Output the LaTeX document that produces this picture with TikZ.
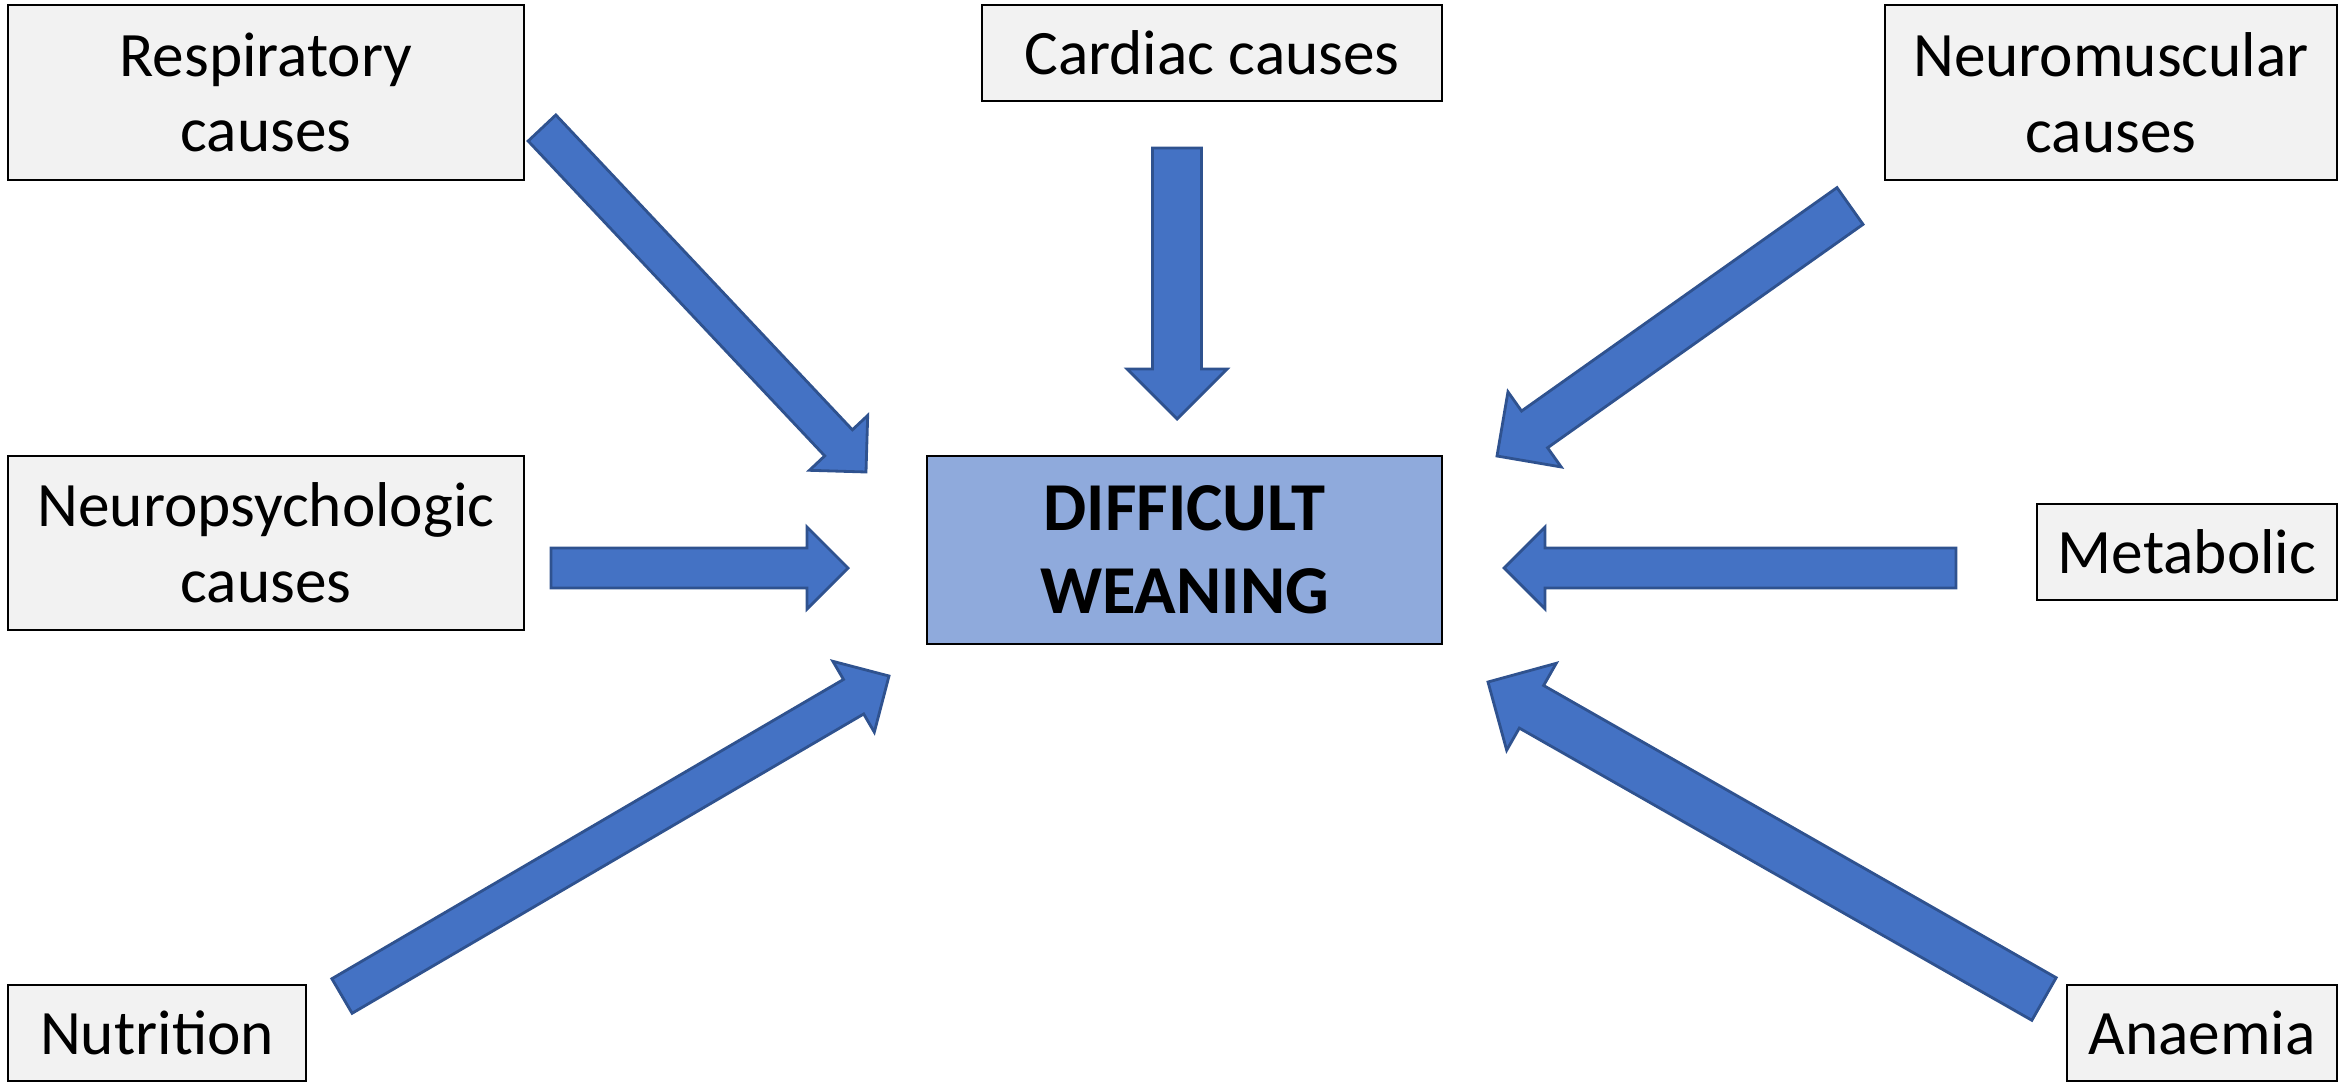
\documentclass[tikz,border=0pt]{standalone}
\usepackage{fontspec}
\setmainfont{Carlito}
\usetikzlibrary{calc}
\definecolor{cBox}{HTML}{F2F2F2}
\definecolor{cMain}{HTML}{8FAADC}
\definecolor{cArrow}{HTML}{4472C4}
\definecolor{cArrowLine}{HTML}{2F528F}

\begin{document}
\begin{tikzpicture}[x=0.01cm, y=-0.01cm,
    cause/.style={draw=black, fill=cBox, line width=0.6pt, align=center,
      inner sep=0pt, font=\fontsize{18}{21.5}\selectfont},
    blockarrow/.style={draw=cArrowLine, fill=cArrow, line width=0.8pt, line join=miter}]
  \useasboundingbox (0,0) rectangle (2351,1082);

  % Central problem
  \node[cause, fill=cMain, minimum width=5.15cm, minimum height=1.88cm,
        font=\fontsize{19.5}{23.5}\selectfont\bfseries] (weaning) at (1184.5,550)
    {DIFFICULT\\WEANING};

  % Causes around it
  \node[cause, minimum width=5.16cm, minimum height=1.75cm] (resp)  at (266,92.5)  {Respiratory\\causes};
  \node[cause, minimum width=4.59cm, minimum height=0.96cm] (card)  at (1212,53)   {Cardiac causes};
  \node[cause, minimum width=4.51cm, minimum height=1.75cm] (neuro) at (2111,92.5) {Neuromuscular\\causes};
  \node[cause, minimum width=5.16cm, minimum height=1.74cm] (psych) at (266,543)   {Neuropsychologic\\causes};
  \node[cause, minimum width=3.00cm, minimum height=0.96cm] (metab) at (2187,552)  {Metabolic};
  \node[cause, minimum width=2.98cm, minimum height=0.96cm] (nutr)  at (157,1033)  {Nutrition};
  \node[cause, minimum width=2.70cm, minimum height=0.96cm] (anaem) at (2202,1033) {Anaemia};

  % Tails and tips of the block arrows
  \coordinate (resp-t)  at (542,128);  \coordinate (resp-h)  at (866,472);
  \coordinate (card-t)  at (1177,148); \coordinate (card-h)  at (1177,419);
  \coordinate (neuro-t) at (1850,206); \coordinate (neuro-h) at (1497,456);
  \coordinate (psych-t) at (551,568);  \coordinate (psych-h) at (848,568);
  \coordinate (metab-t) at (1956,568); \coordinate (metab-h) at (1504,568);
  \coordinate (nutr-t)  at (342,996);  \coordinate (nutr-h)  at (889,676);
  \coordinate (anaem-t) at (2044,999); \coordinate (anaem-h) at (1488,682);

  % Block arrows pointing at the central box
  \foreach \a/\s/\h in {resp/0.19cm/0.40cm, card/0.245cm/0.50cm, neuro/0.225cm/0.46cm,
                        psych/0.20cm/0.41cm, metab/0.20cm/0.41cm, nutr/0.20cm/0.41cm,
                        anaem/0.245cm/0.50cm} {
    \coordinate (\a-b) at ($(\a-h)!\h!(\a-t)$);
    \draw[blockarrow] ($(\a-t)!\s!90:(\a-h)$) -- ($(\a-b)!\s!90:(\a-h)$)
      -- ($(\a-b)!\h!90:(\a-h)$) -- (\a-h) -- ($(\a-b)!\h!-90:(\a-h)$)
      -- ($(\a-b)!\s!-90:(\a-h)$) -- ($(\a-t)!\s!-90:(\a-h)$) -- cycle;
  }
\end{tikzpicture}
\end{document}
